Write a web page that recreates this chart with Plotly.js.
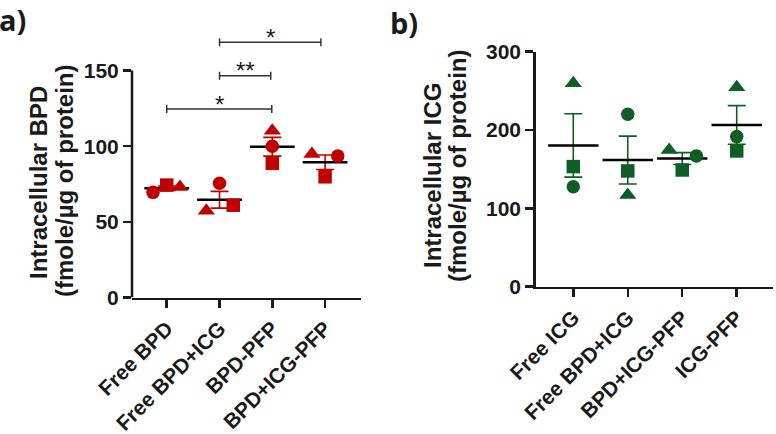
<!DOCTYPE html>
<html>
<head>
<meta charset="utf-8">
<script src="https://cdn.plot.ly/plotly-3.0.1.min.js"></script>
<style>html,body{margin:0;padding:0;background:#fff}#chart{width:776px;height:434px}</style>
</head>
<body>
<div id="chart"></div>
<script>
// ---- data ----
const bpdCategories = ['Free BPD', 'Free BPD+ICG', 'BPD-PFP', 'BPD+ICG-PFP'];
const bpdCircle   = [69.5, 75.5, 100.0, 93.5];
const bpdSquare   = [74.3, 61.0, 88.7, 79.8];
const bpdTriangle = [73.0, 57.4, 110.2, 94.8];

const icgCategories = ['Free ICG', 'Free BPD+ICG', 'BPD+ICG-PFP', 'ICG-PFP'];
const icgCircle   = [127.7, 220.2, 167.0, 191.6];
const icgSquare   = [153.3, 147.8, 149.0, 173.3];
const icgTriangle = [259.8, 117.0, 174.6, 254.7];

// significance brackets (panel a): from category, to category, height, label
const sigFrom  = [0, 1, 1];
const sigTo    = [1.99, 1.97, 2.92];
const sigY     = [124.6, 146.6, 168.7];
const sigLabel = ['*', '**', '*'];

// ---- styles / positions ----
const RED = '#C00000', GREEN = '#0E5E25';
const FONT = 'Arial, "Liberation Sans", sans-serif';
// horizontal scatter offsets (category units) for replicate points
const bpdOff = {circle: [-0.26, 0, 0, 0.24], square: [0, 0.26, 0, 0], triangle: [0.25, -0.25, 0, -0.25]};
const icgOff = {circle: [0, 0, 0.26, 0], square: [0, 0, 0, 0], triangle: [0, 0, -0.24, 0]};

function mean(a){return a.reduce((s,v)=>s+v,0)/a.length;}
function sem(a){const m=mean(a);const v=a.reduce((s,x)=>s+(x-m)*(x-m),0)/(a.length-1);return Math.sqrt(v)/Math.sqrt(a.length);}

function groupTraces(c, s, t, off, color, xa, ya, meanW){
  const idx = c.map((_,i)=>i);
  const reps = idx.map(i=>[c[i], s[i], t[i]]);
  const traces = [];
  traces.push({
    type:'scatter', mode:'markers', xaxis:xa, yaxis:ya, hoverinfo:'skip',
    x: idx, y: reps.map(mean),
    marker:{symbol:'line-ew', size:meanW, color:'black', line:{color:'black', width:2.5}},
    error_y:{type:'data', array: reps.map(sem), color:color, thickness:1.6, width:9},
    cliponaxis:false
  });
  const shapes = [['circle', c, off.circle, 13.5], ['square', s, off.square, 13.5], ['triangle-up', t, off.triangle, 15]];
  shapes.forEach(([sym, vals, o, sz])=>{
    traces.push({
      type:'scatter', mode:'markers', xaxis:xa, yaxis:ya, hoverinfo:'skip',
      x: idx.map(i=>i+o[i]), y: vals,
      marker:{symbol:sym, size:sz, color:color, line:{width:0}},
      cliponaxis:false
    });
  });
  return traces;
}

const data = [].concat(
  groupTraces(bpdCircle, bpdSquare, bpdTriangle, bpdOff, RED, 'x', 'y', 32),
  groupTraces(icgCircle, icgSquare, icgTriangle, icgOff, GREEN, 'x2', 'y2', 36)
);

const xTickFont = {family:FONT, size:21, color:'#1a1a1a', weight:'bold'};
const yTickFont = {family:FONT, size:21, color:'#1a1a1a', weight:'bold'};
const xCommon = {showline:true, linewidth:2.5, linecolor:'#1a1a1a', ticks:'outside', ticklen:8, tickwidth:2.5,
  tickcolor:'#1a1a1a', tickangle:-45, tickfont:xTickFont, showgrid:false, zeroline:false, fixedrange:true};
const yCommon = {ticks:'outside', ticklen:8, tickwidth:2.5, tickcolor:'#1a1a1a', tickfont:yTickFont,
  showgrid:false, zeroline:false, fixedrange:true};

const shapes = [
  // y-axis line for panel a (ends at 150)
  {type:'line', xref:'paper', x0:132/776, x1:132/776, yref:'y', y0:0, y1:150, line:{color:'#1a1a1a', width:2.5}}
];
const annotations = [];
const tk = 2.6;
sigFrom.forEach((f,i)=>{
  const t = sigTo[i], y = sigY[i];
  shapes.push({type:'path', xref:'x', yref:'y',
    path:`M${f},${y-tk} L${f},${y+tk} M${f},${y} L${t},${y} M${t},${y-tk} L${t},${y+tk}`,
    line:{color:'#333', width:1.5}});
  annotations.push({xref:'x', yref:'y', x:(f+t)/2, y:y, text:sigLabel[i], showarrow:false,
    xanchor:'center', yanchor:'middle', yshift:5, font:{family:FONT, size:24, color:'#1a1a1a'}});
});

const titleFont = {family:FONT, size:24, color:'#1a1a1a', weight:'bold'};
function ytitle(px, py, txt){
  return {xref:'paper', yref:'paper', x:px/776, y:1-py/434, xanchor:'center', yanchor:'middle',
    textangle:-90, showarrow:false, text:txt, font:titleFont};
}
annotations.push(
  {xref:'paper', yref:'paper', x:0, y:1, xanchor:'left', yanchor:'top', text:'a)', showarrow:false,
   xshift:-3, yshift:2, font:{family:'"Open Sans", sans-serif', size:29, color:'#1a1a1a', weight:'bold'}},
  {xref:'paper', yref:'paper', x:388/776, y:1, xanchor:'left', yanchor:'top', text:'b)', showarrow:false,
   yshift:-1, font:{family:'"Open Sans", sans-serif', size:29, color:'#1a1a1a', weight:'bold'}},
  ytitle(38, 183, 'Intracellular BPD'),
  ytitle(64, 181, '(fmole/µg of protein)'),
  ytitle(432, 176, 'Intracellular ICG'),
  ytitle(457, 166, '(fmole/µg of protein)')
);

const layout = {
  width:776, height:434, margin:{l:0, r:0, t:0, b:0}, showlegend:false,
  paper_bgcolor:'#fff', plot_bgcolor:'rgba(0,0,0,0)',
  xaxis: Object.assign({}, xCommon, {domain:[132/776, 361/776], range:[-0.658, 3.68],
    tickvals:[0,1,2,3], ticktext:bpdCategories, anchor:'y'}),
  yaxis: Object.assign({}, yCommon, {domain:[(434-297.5)/434, (434-25.2)/434], range:[0,180],
    tickvals:[0,50,100,150], showline:false, anchor:'x'}),
  xaxis2: Object.assign({}, xCommon, {domain:[535.7/776, 773/776], range:[-0.69, 3.666],
    tickvals:[0,1,2,3], ticktext:icgCategories, anchor:'y2'}),
  yaxis2: Object.assign({}, yCommon, {domain:[(434-286.7)/434, (434-51.7)/434], range:[0,300],
    tickvals:[0,100,200,300], showline:true, linewidth:2.5, linecolor:'#1a1a1a', anchor:'x2'}),
  shapes: shapes, annotations: annotations
};

Plotly.newPlot('chart', data, layout, {staticPlot:true, displayModeBar:false});
</script>
</body>
</html>
